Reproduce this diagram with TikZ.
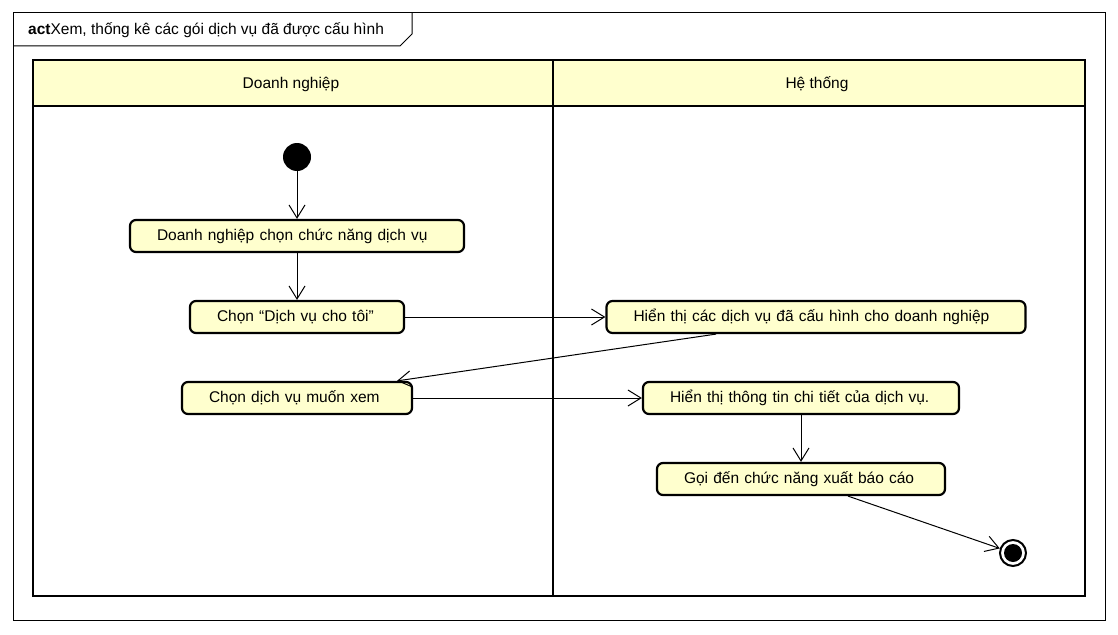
\documentclass[tikz,border=0pt]{standalone}
\usepackage{fontspec}
\setmainfont{Liberation Sans}
\usetikzlibrary{arrows.meta}
\definecolor{actfill}{RGB}{255,255,206}
\tikzset{
  act/.style={draw, line width=2.2pt, rounded corners=6pt, fill=actfill,
    minimum height=32pt, inner ysep=0pt, inner xsep=27pt, align=left},
  lane/.style={line width=2.8pt},
  flow/.style={line width=1pt, -{Straight Barb[length=13pt,width=16pt]}}
}
\begin{document}
\begin{tikzpicture}[x=1pt,y=-1pt,font=\fontsize{15.5}{18}\selectfont]
 \useasboundingbox (0,0) rectangle (1118,634);
 % frame
 \draw[line width=1pt] (13,13) rectangle (1105,620);
 \draw[line width=1pt] (13,46) -- (400,46) -- (412,34) -- (412,13);
 \node (T) [anchor=west, inner sep=0pt] at (28,30) {\textbf{act}Xem, thống kê các gói dịch vụ đã được cấu hình};
 % swimlanes
 \draw[lane, fill=actfill] (33,60) rectangle (1085,106);
 \draw[lane] (33,60) rectangle (1085,596);
 \draw[lane] (553,60) -- (553,596);
 \node (L1) at (291,84) {Doanh nghiệp};
 \node (L2) at (817,84) {Hệ thống};

 \node (S) [circle, fill, minimum size=28pt, inner sep=0pt] at (297,157) {};
 \node (A1) [act, text width=280pt] at (297,236) {Doanh nghiệp chọn chức năng dịch vụ};
 \node (A2) [act, text width=160pt] at (297,317) {Chọn “Dịch vụ cho tôi”};
 \node (A3) [act, text width=176pt] at (297,398) {Chọn dịch vụ muốn xem};
 \node (A4) [act, text width=365pt] at (816,317) {Hiển thị các dịch vụ đã cấu hình cho doanh nghiệp};
 \node (A5) [act, text width=262pt] at (801,398) {Hiển thị thông tin chi tiết của dịch vụ.};
 \node (A6) [act, text width=234pt] at (801,479) {Gọi đến chức năng xuất báo cáo};
 \node (E) [circle, draw, line width=2pt, minimum size=26pt, inner sep=0pt] at (1013,553) {};
 \fill (E) circle[radius=9];

 \path (S) edge [flow] (A1);
 \path (A1) edge [flow] (A2);
 \path (A2) edge [flow] (A4);
 \path ([xshift=-100pt]A4.south) edge [flow] ([xshift=100pt]A3.north);
 \path (A3) edge [flow] (A5);
 \path (A5) edge [flow] (A6);
 \path ([xshift=47pt]A6.south) edge [flow] (E);
\end{tikzpicture}
\end{document}
